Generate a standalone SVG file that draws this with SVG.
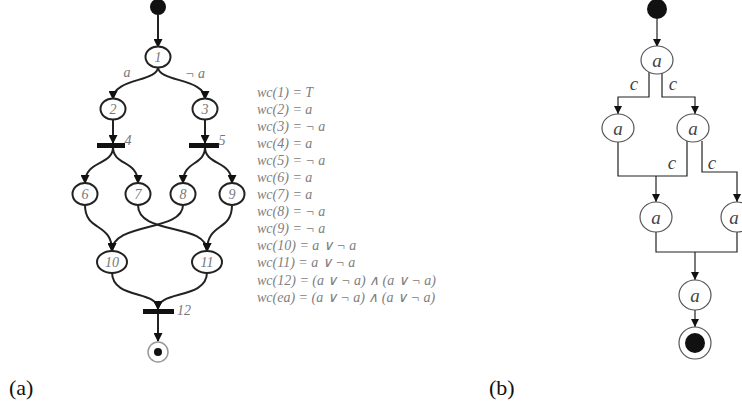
<svg xmlns="http://www.w3.org/2000/svg" width="742" height="412" viewBox="0 0 742 412">
<style>
.na{fill:#fff;stroke:#222;stroke-width:2}
.la{font-family:"Liberation Serif",serif;font-style:italic;font-size:14px;fill:#777;text-anchor:middle;dominant-baseline:central}
.ea{fill:none;stroke:#222;stroke-width:2}
.bar{fill:#111}
.wc{font-family:"Liberation Serif",serif;font-style:italic;font-size:14px;fill:#808080}
.nb{fill:#fff;stroke:#555;stroke-width:1.2}
.lb{font-family:"Liberation Serif",serif;font-style:italic;font-size:19px;fill:#444;text-anchor:middle;dominant-baseline:central}
.eb{fill:none;stroke:#222;stroke-width:1.2}
.cap{font-family:"Liberation Serif",serif;font-size:22px;fill:#111}
</style>
<defs>
<marker id="ma" markerWidth="9" markerHeight="9" refX="8" refY="4.5" orient="auto" markerUnits="userSpaceOnUse"><path d="M0,0 L9,4.5 L0,9 Z" fill="#111"/></marker>
<marker id="mb" markerWidth="8" markerHeight="8" refX="8" refY="4" orient="auto" markerUnits="userSpaceOnUse"><path d="M0,0 L8,4 L0,8 Z" fill="#111"/></marker>
</defs>
<!-- Panel (a) connectors -->
<g id="connectors-a">
<path class="ea" d="M158,15 L158,47" marker-end="url(#ma)"/>
<path class="ea" d="M158,67 C158,82 113,78 113,99" marker-end="url(#ma)"/>
<path class="ea" d="M158,67 C158,82 205,78 205,99" marker-end="url(#ma)"/>
<path class="ea" d="M113,119 L113,143" marker-end="url(#ma)"/>
<path class="ea" d="M205,119 L205,143" marker-end="url(#ma)"/>
<path class="ea" d="M113,147 C113,166 85,160 85,183" marker-end="url(#ma)"/>
<path class="ea" d="M113,147 C113,166 138,160 138,183" marker-end="url(#ma)"/>
<path class="ea" d="M205,147 C205,166 183,160 183,183" marker-end="url(#ma)"/>
<path class="ea" d="M205,147 C205,166 232,160 232,183" marker-end="url(#ma)"/>
<path class="ea" d="M85,205 C85,232 112,222 112,251" marker-end="url(#ma)"/>
<path class="ea" d="M183,205 C183,232 112,222 112,251" marker-end="url(#ma)"/>
<path class="ea" d="M138,205 C138,236 207,222 207,251" marker-end="url(#ma)"/>
<path class="ea" d="M232,205 C232,232 207,222 207,251" marker-end="url(#ma)"/>
<path class="ea" d="M112,272 C112,300 158,290 158,309" marker-end="url(#ma)"/>
<path class="ea" d="M207,272 C207,300 158,290 158,309" marker-end="url(#ma)"/>
<path class="ea" d="M158,313 L158,341" marker-end="url(#ma)"/>
<text class="la" x="127" y="72">a</text>
<text class="la" x="195" y="73">¬ a</text>
</g>
<!-- Panel (a) nodes -->
<g id="a-start"><circle cx="158" cy="7" r="8" fill="#111"/></g>
<g id="a-n1"><ellipse class="na" cx="158" cy="57" rx="12.5" ry="10.5"/><text class="la" x="158" y="57">1</text></g>
<g id="a-n2"><ellipse class="na" cx="113" cy="109" rx="12.5" ry="10.5"/><text class="la" x="113" y="109">2</text></g>
<g id="a-n3"><ellipse class="na" cx="205" cy="109" rx="12.5" ry="10.5"/><text class="la" x="205" y="109">3</text></g>
<g id="a-t4"><rect class="bar" x="97" y="143" width="28" height="5"/><text class="la" x="128" y="140">4</text></g>
<g id="a-t5"><rect class="bar" x="189" y="143" width="30" height="5"/><text class="la" x="222" y="140">5</text></g>
<g id="a-n6"><ellipse class="na" cx="85" cy="194" rx="12.5" ry="11"/><text class="la" x="85" y="194">6</text></g>
<g id="a-n7"><ellipse class="na" cx="138" cy="194" rx="12.5" ry="11"/><text class="la" x="138" y="194">7</text></g>
<g id="a-n8"><ellipse class="na" cx="183" cy="194" rx="12.5" ry="11"/><text class="la" x="183" y="194">8</text></g>
<g id="a-n9"><ellipse class="na" cx="232" cy="194" rx="12.5" ry="11"/><text class="la" x="232" y="194">9</text></g>
<g id="a-n10"><ellipse class="na" cx="112" cy="262" rx="15" ry="11"/><text class="la" x="112" y="262">10</text></g>
<g id="a-n11"><ellipse class="na" cx="207" cy="262" rx="15" ry="11"/><text class="la" x="207" y="262">11</text></g>
<g id="a-t12"><rect class="bar" x="143" y="309" width="31" height="5"/><text class="la" x="184" y="310">12</text></g>
<g id="a-end"><circle cx="158" cy="352" r="10" fill="#fff" stroke="#999" stroke-width="1.5"/><circle cx="158" cy="352" r="4" fill="#111"/></g>
<!-- wc list -->
<g id="wc-list" class="wc">
<text x="257" y="97">wc(1) = T</text>
<text x="257" y="114">wc(2) = a</text>
<text x="257" y="131">wc(3) = ¬ a</text>
<text x="257" y="148">wc(4) = a</text>
<text x="257" y="165">wc(5) = ¬ a</text>
<text x="257" y="182">wc(6) = a</text>
<text x="257" y="199">wc(7) = a</text>
<text x="257" y="216">wc(8) = ¬ a</text>
<text x="257" y="233">wc(9) = ¬ a</text>
<text x="257" y="250">wc(10) = a ∨ ¬ a</text>
<text x="257" y="267">wc(11) = a ∨ ¬ a</text>
<text x="257" y="285">wc(12) = (a ∨ ¬ a) ∧ (a ∨ ¬ a)</text>
<text x="257" y="302">wc(ea) = (a ∨ ¬ a) ∧ (a ∨ ¬ a)</text>
</g>
<!-- Panel (b) connectors -->
<g id="connectors-b">
<path class="eb" d="M657,19 L657,47" marker-end="url(#mb)"/>
<path class="eb" d="M649,72 L649,97 L618,97 L618,114" marker-end="url(#mb)"/>
<path class="eb" d="M662,72 L662,97 L695,97 L695,114" marker-end="url(#mb)"/>
<path class="eb" d="M618,142 L618,176 L687,176 L687,141"/>
<path class="eb" d="M656,176 L656,202" marker-end="url(#mb)"/>
<path class="eb" d="M702,141 L702,172 L737,172 L737,202" marker-end="url(#mb)"/>
<path class="eb" d="M656,232 L656,252 L737,252 L737,232"/>
<path class="eb" d="M695,252 L695,280" marker-end="url(#mb)"/>
<path class="eb" d="M695,310 L695,327" marker-end="url(#mb)"/>
<text class="lb" x="634" y="83">c</text>
<text class="lb" x="673" y="83">c</text>
<text class="lb" x="672" y="162">c</text>
<text class="lb" x="712" y="162">c</text>
</g>
<!-- Panel (b) nodes -->
<g id="b-start"><circle cx="657" cy="9" r="10" fill="#111"/></g>
<g id="b-n1"><ellipse class="nb" cx="657" cy="60" rx="16" ry="14"/><text class="lb" x="657" y="60">a</text></g>
<g id="b-n2"><ellipse class="nb" cx="618" cy="128" rx="16" ry="14"/><text class="lb" x="618" y="128">a</text></g>
<g id="b-n3"><ellipse class="nb" cx="693" cy="128" rx="16" ry="14"/><text class="lb" x="693" y="128">a</text></g>
<g id="b-n4"><ellipse class="nb" cx="656" cy="217" rx="16" ry="15"/><text class="lb" x="656" y="217">a</text></g>
<g id="b-n5"><ellipse class="nb" cx="737" cy="217" rx="16" ry="15"/><text class="lb" x="734" y="217">a</text></g>
<g id="b-n6"><ellipse class="nb" cx="695" cy="295" rx="16" ry="15"/><text class="lb" x="695" y="295">a</text></g>
<g id="b-end"><circle cx="695" cy="343" r="16" fill="#fff" stroke="#555" stroke-width="1.2"/><circle cx="695" cy="343" r="10" fill="#111"/></g>
<!-- captions -->
<text class="cap" x="9" y="395">(a)</text>
<text class="cap" x="489" y="395">(b)</text>
</svg>
